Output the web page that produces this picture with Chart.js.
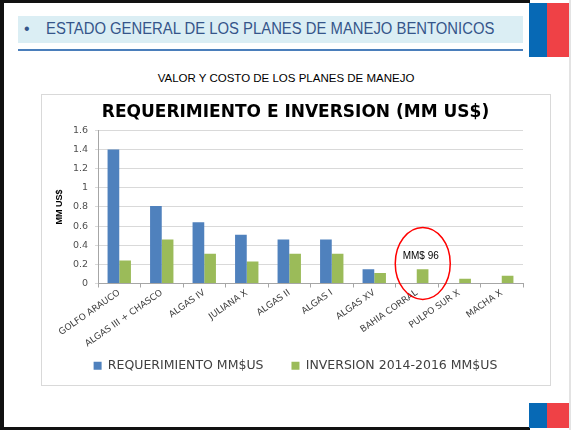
<!DOCTYPE html>
<html>
<head>
<meta charset="utf-8">
<script src="https://cdn.jsdelivr.net/npm/chart.js@4.4.0/dist/chart.umd.min.js"></script>
<style>
  body { margin: 0; background: #fff; font-family: "Liberation Sans", Arial, sans-serif; }
  #slide { position: relative; width: 572px; height: 430px; overflow: hidden; background: #fff; }
  .abs { position: absolute; }
  #cabecera { left: 18px; top: 16px; width: 505px; height: 27px; background: #dbeef4; }
  #cabecera span { position: absolute; top: 4px; white-space: nowrap; color: #35558a; font-size: 16px; transform-origin: left top; }
  #linea { left: 18px; top: 49px; width: 505px; height: 2px; background: #4a7ebb; }
  #subtitulo { left: 0; top: 68px; width: 572px; text-align: center; color: #000; }
  #subtitulo span { display: inline-block; font-size: 11.5px; }
  #marco { left: 41px; top: 94px; width: 508px; height: 290px; border: 1px solid #d9d9d9; }
  #zona { left: 42px; top: 95px; }
</style>
</head>
<body>
<div id="slide">
  <!-- bordes del slide -->
  <div class="abs" style="left:0;top:0;width:4px;height:430px;background:#111"></div>
  <div class="abs" style="left:0;top:0;width:530px;height:3px;background:#111"></div>
  <div class="abs" style="left:0;top:427px;width:530px;height:3px;background:#111"></div>
  <div class="abs" style="left:569px;top:0;width:2px;height:430px;background:#e3e3e3"></div>
  <!-- bandera arriba y abajo -->
  <div class="abs" style="left:529px;top:3px;width:18px;height:54px;background:#0769b5"></div>
  <div class="abs" style="left:547px;top:3px;width:22px;height:54px;background:#ef4146"></div>
  <div class="abs" style="left:529px;top:403px;width:18px;height:25px;background:#0769b5"></div>
  <div class="abs" style="left:547px;top:403px;width:22px;height:25px;background:#ef4146"></div>

  <div id="cabecera" class="abs">
    <span style="left:6px">•</span>
    <span id="txtCab" style="left:28px">ESTADO GENERAL DE LOS PLANES DE MANEJO BENTONICOS</span>
  </div>
  <div id="linea" class="abs"></div>
  <div id="subtitulo" class="abs"><span>VALOR Y COSTO DE LOS PLANES DE MANEJO</span></div>

  <div id="marco" class="abs"></div>
  <div id="zona" class="abs"><canvas id="grafica" width="507" height="287"></canvas></div>
</div>

<script>
const planes = ["GOLFO ARAUCO", "ALGAS III + CHASCO", "ALGAS IV", "JULIANA X", "ALGAS II",
                "ALGAS I", "ALGAS XV", "BAHIA CORRAL", "PULPO SUR X", "MACHA X"];
const requerimiento = [1.40, 0.81, 0.64, 0.51, 0.46, 0.46, 0.15, 0, 0, 0];
const inversion = [0.24, 0.46, 0.31, 0.23, 0.31, 0.31, 0.11, 0.15, 0.05, 0.08];
const ticksY = [0, 0.2, 0.4, 0.6, 0.8, 1, 1.2, 1.4, 1.6];

// nota en rojo sobre BAHIA CORRAL
const nota = { indice: 7, valor: 0.21, texto: "MM$ 96" };

// ajustar ancho del texto de cabecera
const cab = document.getElementById('txtCab');
cab.style.transform = `scaleX(${448 / cab.offsetWidth})`;

const fuente = "'Liberation Sans', Arial, sans-serif";
const fuenteAncha = "'DejaVu Sans', Verdana, sans-serif";

const marcaNota = {
    id: 'marcaNota',
    afterDraw(chart) {
        const ctx = chart.ctx;
        const x = chart.scales.x.getPixelForValue(nota.indice);
        const y = chart.scales.y.getPixelForValue(nota.valor);
        ctx.save();
        ctx.strokeStyle = '#ff0000';
        ctx.lineWidth = 1.5;
        ctx.beginPath();
        ctx.ellipse(x + 6, y, 27.5, 36, 0, 0, Math.PI * 2);
        ctx.stroke();
        ctx.fillStyle = '#000';
        ctx.font = "10px " + fuente;
        ctx.textAlign = 'center';
        ctx.textBaseline = 'middle';
        ctx.fillText(nota.texto, x + 4, y - 7);
        ctx.restore();
    }
};

new Chart(document.getElementById('grafica'), {
    type: 'bar',
    data: {
        labels: planes,
        datasets: [{
            label: 'REQUERIMIENTO MM$US',
            data: requerimiento,
            backgroundColor: '#4f81bd',
            barPercentage: 1,
            categoryPercentage: 0.55
        }, {
            label: 'INVERSION 2014-2016 MM$US',
            data: inversion,
            backgroundColor: '#9bbb59',
            barPercentage: 1,
            categoryPercentage: 0.55
        }]
    },
    options: {
        responsive: false,
        animation: false,
        plugins: {
            title: {
                display: true,
                text: 'REQUERIMIENTO E INVERSION (MM US$)',
                color: '#000',
                font: { family: fuenteAncha, size: 17, weight: 'bold' },
                padding: { top: 7, bottom: 8 }
            },
            legend: {
                position: 'bottom',
                labels: {
                    boxWidth: 8, boxHeight: 8, padding: 28,
                    color: '#404040',
                    font: { family: fuenteAncha, size: 12.5 }
                }
            },
            tooltip: { enabled: false }
        },
        scales: {
            x: {
                afterFit: s => {
                    s.height = 48;
                    s._computeLabelArea = () => null;   // que no recorte las etiquetas
                },
                grid: { drawOnChartArea: false, tickLength: 4, color: '#a6a6a6' },
                border: { color: '#a6a6a6' },
                ticks: {
                    minRotation: 35, maxRotation: 35, autoSkip: false,
                    padding: 0,
                    color: '#404040',
                    font: { family: fuenteAncha, size: 9 }
                }
            },
            y: {
                min: 0, max: 1.6,
                afterFit: s => { s.width = 56; },
                afterBuildTicks: s => { s.ticks = ticksY.map(v => ({ value: v })); },
                grid: { color: '#d9d9d9', tickLength: 3 },
                border: { color: '#a6a6a6' },
                title: {
                    display: true, text: 'MM US$', color: '#000',
                    font: { family: fuente, size: 9, weight: 'bold' },
                    padding: { top: 12, bottom: 0 }
                },
                ticks: {
                    color: '#505050',
                    padding: 7,
                    font: { family: fuenteAncha, size: 9.5 },
                    callback: v => String(+v.toFixed(1))
                }
            },
            // margen derecho vacío
            margen: {
                position: 'right',
                afterFit: s => { s.width = 26; },
                grid: { display: false },
                border: { display: false },
                ticks: { display: false }
            }
        }
    },
    plugins: [marcaNota]
});
</script>
</body>
</html>
